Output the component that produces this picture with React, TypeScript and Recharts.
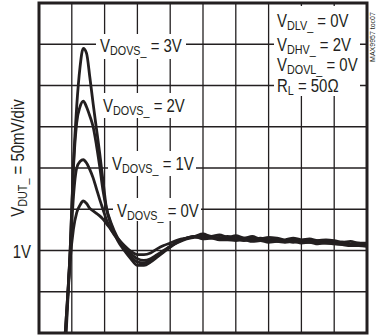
import { LineChart, Line, XAxis, YAxis, CartesianGrid, Customized } from "recharts";

// time axis in scope divisions (10 div across), voltage in volts (50mV/div)
const TIME = [
  0.6, 0.8, 0.95, 1.05, 1.15, 1.25, 1.35, 1.45, 1.55, 1.65, 1.75, 1.85, 1.95, 2.05, 2.2, 2.4, 2.6, 2.8,
  3.0, 3.2, 3.4, 3.6, 3.8, 4.0, 4.25, 4.5, 4.75, 5.0, 5.25, 5.5, 5.75, 6.0, 6.25, 6.5, 6.75, 7.0, 7.25,
  7.5, 7.75, 8.0, 8.25, 8.5, 8.75, 9.0, 9.25, 9.5, 9.75, 10.0,
];

const VDOVS_3V = [
  0.78, 0.9, 1.0, 1.105, 1.175, 1.222, 1.245, 1.239, 1.21, 1.178, 1.148, 1.118, 1.085, 1.053, 1.031, 1.012, 1.0, 0.99,
  0.982, 0.982, 0.986, 0.992, 0.998, 1.004, 1.011, 1.015, 1.017, 1.02, 1.017, 1.019, 1.016, 1.018, 1.015, 1.017, 1.014, 1.016, 1.015,
  1.013, 1.015, 1.013, 1.014, 1.012, 1.013, 1.012, 1.01, 1.011, 1.009, 1.009,
];
const VDOVS_2V = [
  0.78, 0.9, 1.0, 1.1, 1.155, 1.174, 1.181, 1.174, 1.163, 1.15, 1.128, 1.102, 1.073, 1.052, 1.033, 1.015, 1.003, 0.993,
  0.986, 0.985, 0.988, 0.993, 0.999, 1.005, 1.011, 1.015, 1.017, 1.018, 1.017, 1.015, 1.017, 1.015, 1.015, 1.013, 1.015, 1.013, 1.014,
  1.012, 1.013, 1.012, 1.011, 1.012, 1.011, 1.01, 1.01, 1.008, 1.009, 1.007,
];
const VDOVS_1V = [
  0.77, 0.89, 0.995, 1.065, 1.1, 1.108, 1.11, 1.106, 1.098, 1.088, 1.075, 1.062, 1.05, 1.038, 1.025, 1.013, 1.004, 0.996,
  0.99, 0.988, 0.99, 0.995, 1.0, 1.005, 1.01, 1.014, 1.016, 1.016, 1.015, 1.016, 1.014, 1.014, 1.012, 1.014, 1.012, 1.013, 1.011,
  1.012, 1.01, 1.011, 1.01, 1.01, 1.009, 1.009, 1.008, 1.007, 1.006, 1.006,
];
const VDOVS_0V = [
  0.76, 0.88, 0.988, 1.026, 1.046, 1.055, 1.06, 1.057, 1.051, 1.048, 1.045, 1.042, 1.038, 1.033, 1.025, 1.015, 1.006, 0.999,
  0.995, 0.995, 0.997, 1.002, 1.006, 1.009, 1.013, 1.015, 1.017, 1.014, 1.015, 1.013, 1.013, 1.012, 1.013, 1.011, 1.012, 1.01, 1.011,
  1.01, 1.011, 1.009, 1.01, 1.008, 1.009, 1.008, 1.007, 1.006, 1.006, 1.005,
];

const SERIES = [
  { key: "v3", values: VDOVS_3V },
  { key: "v2", values: VDOVS_2V },
  { key: "v1", values: VDOVS_1V },
  { key: "v0", values: VDOVS_0V },
];

const X_TICKS = [0, 1, 2, 3, 4, 5, 6, 7, 8, 9, 10];
const Y_TICKS = [0.9, 0.95, 1.0, 1.05, 1.1, 1.15, 1.2, 1.25, 1.3];

const TRACE_LABELS = ["3V", "2V", "1V", "0V"];
const CONDITIONS = [
  { main: "V", sub: "DLV_", rest: " = 0V" },
  { main: "V", sub: "DHV_", rest: " = 2V" },
  { main: "V", sub: "DOVL_", rest: " = 0V" },
  { main: "R", sub: "L", rest: " = 50Ω" },
];

const data = TIME.map((t, i) => {
  const row: Record<string, number> = { t };
  SERIES.forEach((s) => (row[s.key] = s.values[i]));
  return row;
});

const W = 378;
const H = 335;
const LEFT = 39;
const TOP = 3;
const RIGHT = 11;
const BOTTOM = 2;
const INK = "#231f20";
const FONT = "'Liberation Sans', Arial, sans-serif";
const SX = 0.83;

function Sub({ x, y, main, sub, rest, rotate = 0 }: any) {
  return (
    <text
      transform={`translate(${x},${y}) rotate(${rotate}) scale(${SX},1)`}
      fontFamily={FONT}
      fontSize={18}
      fill={INK}
      textAnchor={rotate ? "middle" : "start"}
    >
      {main}
      <tspan fontSize={13} dy={3}>
        {sub}
      </tspan>
      <tspan dy={-3}>{rest}</tspan>
    </text>
  );
}

function VoltTick({ x, y, payload }: any) {
  if (payload.value !== 1) return <g />;
  return (
    <text transform={`translate(${x},${y + 7}) scale(${SX},1)`} textAnchor="end" fontFamily={FONT} fontSize={18} fill={INK}>
      1V
    </text>
  );
}

// vertical division lines, one per time division
function divisionLines({ xAxis, offset }: any) {
  if (xAxis && typeof xAxis.scale === "function") {
    return X_TICKS.map((v) => xAxis.scale(v));
  }
  return X_TICKS.map((v) => offset.left + (v / 10) * offset.width);
}

// white knock-outs behind the trace callouts and the test-condition block
const callouts = [
  { x: 100, y: 52, box: [96, 34, 90, 25] },
  { x: 103, y: 112, box: [100, 93, 90, 25] },
  { x: 112, y: 170, box: [108, 151, 88, 25] },
  { x: 117, y: 217, box: [113, 198, 88, 23] },
];

function Annotations() {
  return (
    <g>
      {callouts.map((c, i) => (
        <g key={i}>
          <rect x={c.box[0]} y={c.box[1]} width={c.box[2]} height={c.box[3]} fill="#fff" />
          <Sub x={c.x} y={c.y} main="V" sub="DOVS_" rest={` = ${TRACE_LABELS[i]}`} />
        </g>
      ))}
      <rect x={274} y={6} width={86} height={90} fill="#fff" />
      {CONDITIONS.map((c, i) => (
        <Sub key={i} x={277} y={[27, 51, 71, 92][i]} main={c.main} sub={c.sub} rest={c.rest} />
      ))}
    </g>
  );
}

function Frame() {
  return (
    <g>
      <rect x={LEFT} y={TOP} width={W - LEFT - RIGHT} height={H - TOP - BOTTOM} fill="none" stroke={INK} strokeWidth={3} />
      <Sub x={24} y={158} rotate={-90} main="V" sub="DUT_" rest=" = 50mV/div" />
      <text
        transform="translate(375,37) rotate(-90)"
        textAnchor="middle"
        fontFamily={FONT}
        fontSize={7}
        fill={INK}
      >
        MAX9957 toc07
      </text>
    </g>
  );
}

export default function App() {
  return (
    <div style={{ position: "absolute", left: 0, top: 0, width: W, height: H, background: "#fff" }}>
      <LineChart width={W} height={H} data={data} margin={{ top: TOP, right: RIGHT, bottom: BOTTOM, left: 0 }}>
        <CartesianGrid stroke={INK} strokeWidth={1.3} strokeOpacity={1} verticalCoordinatesGenerator={divisionLines} />
        <XAxis
          dataKey="t"
          type="number"
          domain={[0, 10]}
          ticks={X_TICKS}
          height={0}
          tick={false}
          tickLine={false}
          axisLine={false}
          allowDataOverflow
        />
        <YAxis
          type="number"
          domain={[0.9, 1.3]}
          ticks={Y_TICKS}
          width={LEFT}
          tick={<VoltTick />}
          tickLine={false}
          axisLine={false}
          allowDataOverflow
        />
        <Customized component={<Annotations />} />
        {SERIES.map((s) => (
          <Line
            key={s.key}
            dataKey={s.key}
            type="monotone"
            stroke={INK}
            strokeWidth={2.8}
            dot={false}
            isAnimationActive={false}
          />
        ))}
        <Customized component={<Frame />} />
      </LineChart>
    </div>
  );
}
